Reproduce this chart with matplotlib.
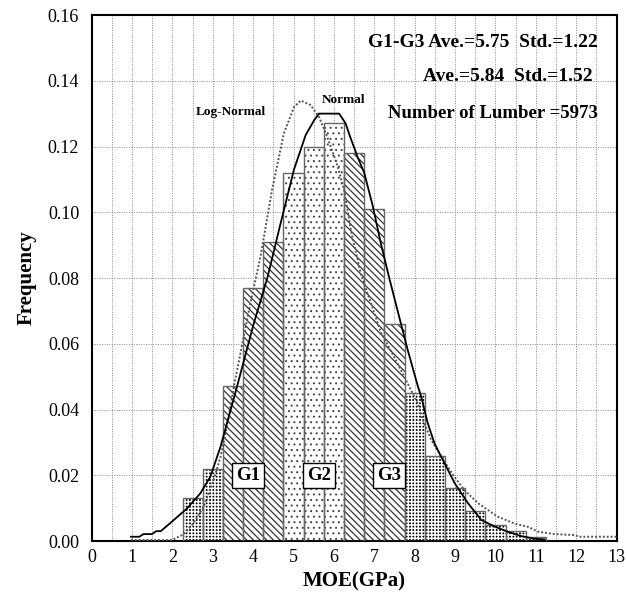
import matplotlib.pyplot as plt
from matplotlib.ticker import MultipleLocator

plt.rcParams['font.family'] = ['Liberation Serif', 'DejaVu Serif']

# MOE histogram: bin centres (GPa), width 0.5, relative frequency
moe_bins = [2.5, 3.0, 3.5, 4.0, 4.5, 5.0, 5.5, 6.0, 6.5,
            7.0, 7.5, 8.0, 8.5, 9.0, 9.5, 10.0, 10.5, 11.0]
freq = [0.013, 0.022, 0.047, 0.077, 0.091, 0.112, 0.120, 0.127, 0.118,
        0.101, 0.066, 0.045, 0.026, 0.016, 0.009, 0.005, 0.003, 0.0012]
# grade of each bin: 0 = out of G1-G3
grade = [0, 0, 1, 1, 1, 2, 2, 2, 3, 3, 3, 0, 0, 0, 0, 0, 0, 0]

# fitted normal distribution
normal_x = [0.97, 1.18, 1.28, 1.49, 1.60, 1.71, 1.94, 2.36, 2.69, 2.94, 3.19,
            3.35, 3.60, 4.01, 4.35, 4.68, 5.01, 5.30, 5.51, 5.63, 5.75, 6.13,
            6.29, 6.40, 6.58, 6.75, 6.96, 7.16, 7.37, 7.62, 7.83, 8.08, 8.16,
            8.32, 8.49, 8.70, 8.99, 9.32, 9.65, 9.98, 10.31, 10.64, 10.97, 11.22]
normal_y = [0.0013, 0.0013, 0.0021, 0.0021, 0.003, 0.003, 0.0054, 0.0099,
            0.0145, 0.0196, 0.0287, 0.0358, 0.047, 0.066, 0.080, 0.0967, 0.113,
            0.1235, 0.128, 0.130, 0.130, 0.130, 0.127, 0.123, 0.117, 0.112,
            0.102, 0.0906, 0.080, 0.068, 0.058, 0.047, 0.044, 0.036, 0.0297,
            0.0246, 0.0176, 0.0115, 0.0064, 0.0044, 0.0028, 0.0015, 0.0007, 0.0005]

# fitted log-normal distribution
lognorm_x = [0.97, 1.99, 2.27, 2.52, 2.77, 3.02, 3.19, 3.35, 3.52, 3.93, 4.18,
             4.47, 4.76, 5.01, 5.18, 5.42, 5.63, 5.80, 5.95, 6.09, 6.25, 6.42,
             6.67, 6.92, 7.16, 7.49, 7.70, 8.07, 8.20, 8.40, 8.66, 8.98, 9.23,
             9.57, 10.06, 10.47, 10.81, 11.06, 11.47, 11.97, 12.05, 13.0]
lognorm_y = [0.0003, 0.0003, 0.002, 0.0054, 0.0104, 0.0186, 0.0256, 0.0348,
             0.047, 0.0723, 0.0865, 0.107, 0.124, 0.132, 0.134, 0.1326, 0.129,
             0.124, 0.119, 0.114, 0.107, 0.0946, 0.081, 0.0723, 0.0635, 0.056,
             0.051, 0.042, 0.037, 0.031, 0.0256, 0.0196, 0.0155, 0.0115, 0.0074,
             0.0053, 0.0043, 0.0028, 0.0021, 0.0018, 0.0013, 0.0013]

grade_names = ['G1', 'G2', 'G3']
grade_label_x = [3.87, 5.64, 7.37]

stats_lines = ['G1-G3 Ave.=5.75  Std.=1.22',
               'Ave.=5.84  Std.=1.52',
               'Number of Lumber =5973']

fig = plt.figure(figsize=(6.27, 5.98), dpi=100)
ax = fig.add_axes([0.1463, 0.0953, 0.837, 0.8796])

# bars, one hatch style per grade
styles = {
    0: dict(color='black', edgecolor='white', hatch='+++++', hlw=1.1),
    1: dict(color='white', edgecolor='#333333', hatch='\\\\\\\\\\', hlw=0.9),
    2: dict(color='white', edgecolor='#444444', hatch='...', hlw=0.7),
    3: dict(color='white', edgecolor='#333333', hatch='\\\\\\\\\\', hlw=0.9),
}
for g, st in styles.items():
    xs = [x for x, gg in zip(moe_bins, grade) if gg == g]
    ys = [y for y, gg in zip(freq, grade) if gg == g]
    with plt.rc_context({'hatch.linewidth': st['hlw']}):
        ax.bar(xs, ys, width=0.5, color=st['color'], edgecolor=st['edgecolor'],
               hatch=st['hatch'], linewidth=0, zorder=2)
ax.bar(moe_bins, freq, width=0.5, fill=False, edgecolor='#666666',
       linewidth=1.0, zorder=3)

ax.plot(lognorm_x, lognorm_y, color='#555555', lw=1.4, ls=(0, (1, 1)), zorder=4)
ax.plot(normal_x, normal_y, color='black', lw=1.3, zorder=5)

for name, gx in zip(grade_names, grade_label_x):
    ax.text(gx, 0.020, name, ha='center', va='center', fontsize=13.5,
            fontweight='bold', zorder=6,
            bbox=dict(boxstyle='square,pad=0.22', fc='white', ec='black', lw=1.0))

ax.text(3.44, 0.1304, 'Log-Normal', ha='center', va='center', fontsize=9.5,
        fontweight='bold')
ax.text(6.23, 0.134, 'Normal', ha='center', va='center', fontsize=9.5,
        fontweight='bold')
for txt, tx, ty, fs in zip(stats_lines, [12.55, 12.42, 12.55],
                           [0.1515, 0.1412, 0.1299], [14, 14, 13.5]):
    ax.text(tx, ty, txt, ha='right', va='center', fontsize=fs,
            fontweight='bold')

ax.set_xlim(0, 13)
ax.set_ylim(0, 0.16)
ax.xaxis.set_major_locator(MultipleLocator(1))
ax.xaxis.set_minor_locator(MultipleLocator(0.5))
ax.yaxis.set_major_locator(MultipleLocator(0.02))
ax.yaxis.set_major_formatter(lambda v, p: f'{v:.2f}')
ax.grid(True, which='both', axis='x', color='#888888', lw=0.7, ls=(0, (1, 1.5)))
ax.grid(True, which='major', axis='y', color='#888888', lw=0.7, ls=(0, (1, 1.5)))
ax.set_axisbelow(True)
ax.tick_params(which='both', length=0, labelsize=13)
ax.tick_params(axis='y', pad=9)
ax.tick_params(axis='x', pad=6)
for sp in ax.spines.values():
    sp.set_linewidth(1.5)

ax.set_xlabel('MOE(GPa)', fontsize=15, fontweight='bold', labelpad=4)
ax.set_ylabel('Frequency', fontsize=15, fontweight='bold', labelpad=8)

fig.savefig('out.png', dpi=100)
